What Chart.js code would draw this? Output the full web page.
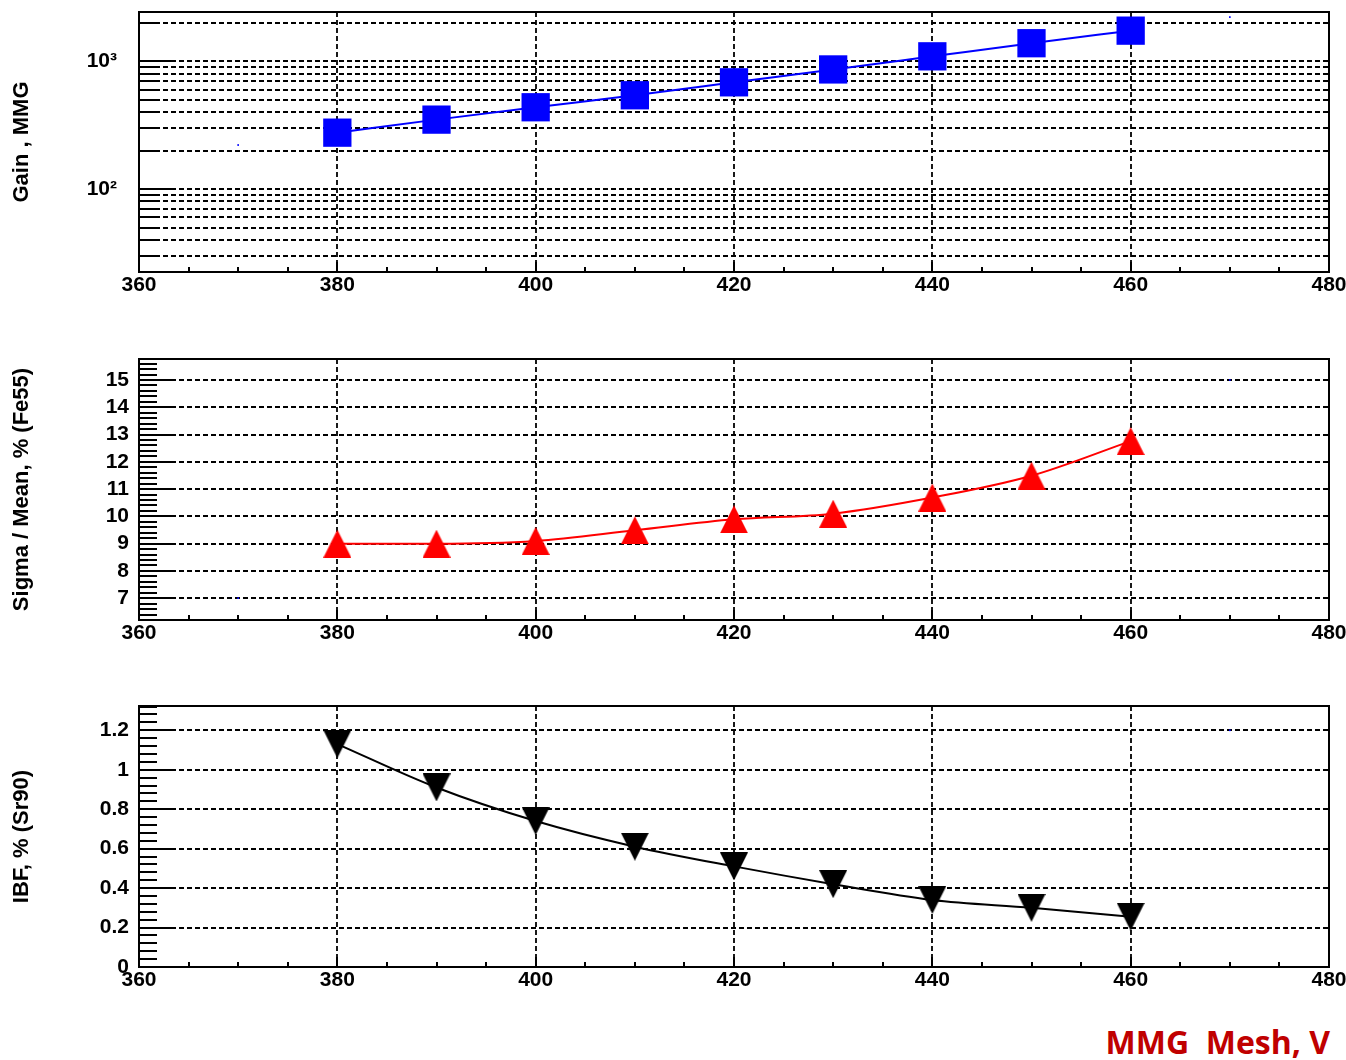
<!DOCTYPE html>
<html>
<head>
<meta charset="utf-8">
<title>MMG gain, energy resolution and IBF vs mesh voltage</title>
<script src="https://cdn.jsdelivr.net/npm/chart.js@4.4.1/dist/chart.umd.min.js"></script>
<style>
  html, body { margin: 0; padding: 0; background: #fff; }
  body { position: relative; width: 1346px; height: 1060px; overflow: hidden; }
  canvas { position: absolute; left: 0; }
  #x-title {
    position: absolute; right: 16px; top: 1026px;
    font: bold 32px "Open Sans", sans-serif; line-height: 32px;
    color: #c00000; white-space: pre;
  }
</style>
</head>
<body>
<canvas id="gain-chart"></canvas>
<canvas id="sigma-chart"></canvas>
<canvas id="ibf-chart"></canvas>
<div id="x-title">MMG  Mesh, V</div>

<script>
// — DATA —
const meshVoltage = [380, 390, 400, 410, 420, 430, 440, 450, 460];
const gainMMG     = [276, 349, 436, 541, 683, 861, 1090, 1380, 1730];
const sigmaFe55   = [9.0, 9.0, 9.1, 9.49, 9.89, 10.1, 10.69, 11.49, 12.76];
const ibfSr90     = [1.13, 0.91, 0.74, 0.61, 0.51, 0.42, 0.34, 0.30, 0.255];

// the two tiny blue dots of the empty frame graph in every pad
const frameVoltage = [370, 470];
const frameGain    = [221, 2208];
const frameSigma   = [7, 15];
const frameIbf     = [0, 1.2];

// — AXES —
const xTicks     = [360, 380, 400, 420, 440, 460, 480];
const gainTicks  = [100, 1000];
const gainGrid   = [30, 40, 50, 60, 70, 80, 90, 100, 200, 300, 400, 500, 600, 700, 800, 900, 1000, 2000];
const sigmaTicks = [7, 8, 9, 10, 11, 12, 13, 14, 15];
const ibfTicks   = [0, 0.2, 0.4, 0.6, 0.8, 1, 1.2];

const FONT  = { family: '"Liberation Sans", Arial, sans-serif', size: 21, weight: 'bold' };
const TFONT = { family: '"Liberation Sans", Arial, sans-serif', size: 22, weight: 'bold' };
const SUP   = { 2: '\u00b2', 3: '\u00b3' };

// minor tick positions between min and max with given step
function minor_steps(min, max, step) {
  const out = [];
  for (let v = Math.ceil(min / step - 1e-6) * step; v <= max + 1e-9; v += step) {
    out.push(+v.toFixed(4));
  }
  return out;
}

/**
 * ROOT-like pad: dashed grid under the data, inward ticks and
 * a solid frame on top.
 */
const rootFrame = {
  id: 'rootFrame',
  beforeDatasetsDraw(chart, args, opts) {
    const { ctx, chartArea: a, scales: { x, y } } = chart;
    ctx.save();
    ctx.strokeStyle = '#000';
    ctx.lineWidth = 1.8;
    ctx.setLineDash([5, 3]);
    ctx.beginPath();
    xTicks.slice(1, -1).forEach(v => {
      const px = Math.round(x.getPixelForValue(v));
      ctx.moveTo(px, a.top);
      ctx.lineTo(px, a.bottom);
    });
    opts.yGrid.forEach(v => {
      const py = Math.round(y.getPixelForValue(v));
      if (py <= a.top + 1 || py >= a.bottom - 1) return;
      ctx.moveTo(a.left, py);
      ctx.lineTo(a.right, py);
    });
    ctx.stroke();
    ctx.restore();
  },
  afterDraw(chart, args, opts) {
    const { ctx, chartArea: a, scales: { x, y } } = chart;
    ctx.save();
    ctx.strokeStyle = '#000';
    ctx.setLineDash([]);
    ctx.lineWidth = 2;
    ctx.beginPath();
    // left axis: long ticks on labelled values, short ones elsewhere
    opts.yMinor.forEach(v => {
      const py = Math.round(y.getPixelForValue(v));
      if (py < a.top || py > a.bottom) return;
      const len = opts.yMajor.includes(v) ? 36 : 18;
      ctx.moveTo(a.left, py);
      ctx.lineTo(a.left + len, py);
    });
    // bottom axis
    minor_steps(360, 480, 5).forEach(v => {
      const px = Math.round(x.getPixelForValue(v));
      const len = v % 20 === 0 ? 10 : 5;
      ctx.moveTo(px, a.bottom);
      ctx.lineTo(px, a.bottom - len);
    });
    ctx.stroke();
    ctx.strokeRect(a.left, a.top, a.right - a.left, a.bottom - a.top);
    ctx.restore();
  }
};

// isosceles triangle marker like ROOT markers 22/23
function triangle_marker(color, pointingUp) {
  const c = document.createElement('canvas');
  c.width = 28; c.height = 28;
  const g = c.getContext('2d');
  g.fillStyle = color;
  g.beginPath();
  if (pointingUp) {
    g.moveTo(14, 0); g.lineTo(28, 28); g.lineTo(0, 28);
  } else {
    g.moveTo(0, 0); g.lineTo(28, 0); g.lineTo(14, 28);
  }
  g.closePath();
  g.fill();
  return c;
}

function xy(xs, ys) {
  return xs.map((v, i) => ({ x: v, y: ys[i] }));
}

/**
 * Build one of the three stacked pads.
 */
function make_panel(id, areaTop, areaBottom, yScale, yTitle, series, frame, frameOpts) {
  const canvas = document.getElementById(id);
  const top = areaTop - 12;
  const height = areaBottom - top + 38;
  canvas.width = 1346;
  canvas.height = height;
  canvas.style.top = top + 'px';
  canvas.style.width = '1346px';
  canvas.style.height = height + 'px';

  return new Chart(canvas.getContext('2d'), {
    type: 'line',
    data: {
      datasets: [
        Object.assign({
          borderWidth: 2,
          pointBorderWidth: 0,
          cubicInterpolationMode: 'monotone',
          fill: false
        }, series),
        {
          data: frame,
          showLine: false,
          pointRadius: 1.2,
          pointBorderWidth: 0,
          pointStyle: 'rect',
          backgroundColor: '#0000ff',
          borderColor: '#0000ff'
        }
      ]
    },
    options: {
      responsive: false,
      animation: false,
      events: [],
      layout: { autoPadding: false, padding: { left: 0, right: 17, top: 12, bottom: 0 } },
      plugins: {
        legend: { display: false },
        tooltip: { enabled: false },
        rootFrame: frameOpts
      },
      scales: {
        x: {
          type: 'linear',
          min: 360,
          max: 480,
          grid: { display: false, drawTicks: false, tickLength: 0 },
          border: { display: false },
          afterBuildTicks: s => { s.ticks = xTicks.map(v => ({ value: v })); },
          afterFit: s => { s.height = 38; s.paddingLeft = 0; s.paddingRight = 0; },
          ticks: { color: '#000', font: FONT, padding: 1, maxRotation: 0, autoSkip: false }
        },
        y: Object.assign({
          grid: { display: false, drawTicks: false, tickLength: 0 },
          border: { display: false },
          afterFit: s => { s.width = 139; s.paddingTop = 0; s.paddingBottom = 0; },
          title: {
            display: true,
            text: yTitle,
            color: '#000',
            font: TFONT,
            padding: { top: 9, bottom: 0 }
          }
        }, yScale)
      }
    },
    plugins: [rootFrame]
  });
}

function render_gain() {
  make_panel('gain-chart', 12, 272, {
    type: 'logarithmic',
    min: 22.5,
    max: 2420,
    afterBuildTicks: s => { s.ticks = gainTicks.map(v => ({ value: v })); },
    ticks: {
      color: '#000', font: FONT, padding: 22, autoSkip: false,
      callback: v => '10' + SUP[Math.round(Math.log10(v))]
    }
  }, 'Gain , MMG', {
    data: xy(meshVoltage, gainMMG),
    borderColor: '#0000ff',
    backgroundColor: '#0000ff',
    pointStyle: 'rect',
    pointRadius: 20
  }, xy(frameVoltage, frameGain), {
    yGrid: gainGrid, yMinor: gainGrid, yMajor: gainTicks
  });
}

function render_sigma() {
  make_panel('sigma-chart', 359, 620, {
    type: 'linear',
    min: 6.2,
    max: 15.77,
    afterBuildTicks: s => { s.ticks = sigmaTicks.map(v => ({ value: v })); },
    ticks: { color: '#000', font: FONT, padding: 10, autoSkip: false, callback: v => String(v) }
  }, 'Sigma / Mean, % (Fe55)', {
    data: xy(meshVoltage, sigmaFe55),
    borderColor: '#ff0000',
    backgroundColor: '#ff0000',
    pointStyle: triangle_marker('#ff0000', true),
    pointRadius: 14
  }, xy(frameVoltage, frameSigma), {
    yGrid: sigmaTicks, yMinor: minor_steps(6.2, 15.77, 0.2), yMajor: sigmaTicks
  });
}

function render_ibf() {
  make_panel('ibf-chart', 706, 967, {
    type: 'linear',
    min: 0,
    max: 1.323,
    afterBuildTicks: s => { s.ticks = ibfTicks.map(v => ({ value: v })); },
    ticks: { color: '#000', font: FONT, padding: 10, autoSkip: false, callback: v => String(+v.toFixed(1)) }
  }, 'IBF, % (Sr90)', {
    data: xy(meshVoltage, ibfSr90),
    borderColor: '#000000',
    backgroundColor: '#000000',
    pointStyle: triangle_marker('#000000', false),
    pointRadius: 14
  }, xy(frameVoltage, frameIbf), {
    yGrid: ibfTicks, yMinor: minor_steps(0, 1.323, 0.04), yMajor: ibfTicks
  });
}

// — Initialize on page load —
document.addEventListener('DOMContentLoaded', () => {
  render_gain();
  render_sigma();
  render_ibf();
});
</script>
</body>
</html>
